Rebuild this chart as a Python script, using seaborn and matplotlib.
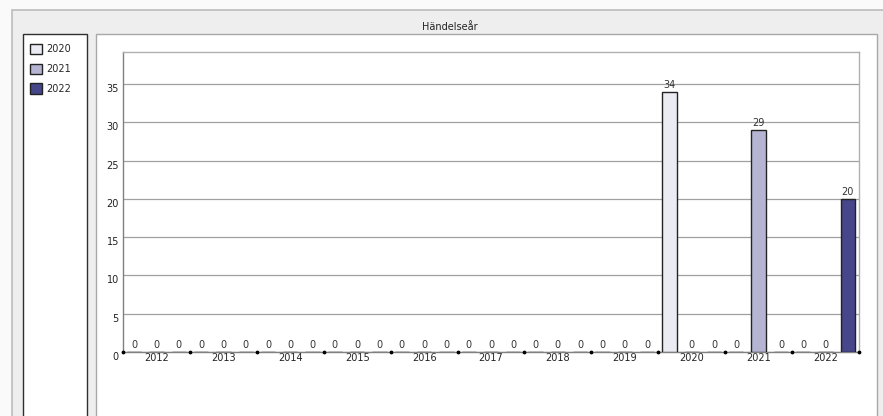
import numpy as np
import pandas as pd
import matplotlib
matplotlib.use('Agg')
import matplotlib.pyplot as plt
from matplotlib.patches import Rectangle
import seaborn as sns

# Datos
years = ['2012', '2013', '2014', '2015', '2016', '2017', '2018', '2019', '2020', '2021', '2022']
series = ['2020', '2021', '2022']
values_2020 = [0, 0, 0, 0, 0, 0, 0, 0, 34, 0, 0]
values_2021 = [0, 0, 0, 0, 0, 0, 0, 0, 0, 29, 0]
values_2022 = [0, 0, 0, 0, 0, 0, 0, 0, 0, 0, 20]
colors = ['#ebebf3', '#b5b5d3', '#46468a']

df = pd.DataFrame({
    'year': years * 3,
    'serie': [s for s in series for _ in years],
    'value': values_2020 + values_2021 + values_2022,
})

sns.set_style('white')
plt.rcParams['font.family'] = ['DejaVu Sans']

W, H = 883, 416
fig = plt.figure(figsize=(W / 100, H / 100), dpi=100)
fig.patch.set_facecolor('#fafafa')


def px_rect(x0, y0, x1, y1, **kw):
    # rectangulo en pixeles (origen arriba-izquierda)
    r = Rectangle((x0 / W, 1 - y1 / H), (x1 - x0) / W, (y1 - y0) / H,
                  transform=fig.transFigure, zorder=-5, **kw)
    fig.patches.append(r)


# Panel exterior con titulo
px_rect(12, 10, W + 5, H + 5, facecolor='#eeeeee', edgecolor='#bcbcbc', linewidth=1.2)
fig.text(450 / W, 1 - 27 / H, 'Händelseår', ha='center', va='center', fontsize=7, color='#222222')

# Paneles
px_rect(23, 34, 87, H + 5, facecolor='white', edgecolor='#303030', linewidth=1.0)
px_rect(96, 34, 877, H + 5, facecolor='white', edgecolor='#a8a8a8', linewidth=1.0)

ax = fig.add_axes([123 / W, 1 - 352 / H, (859 - 123) / W, (352 - 52) / H])
ax.set_zorder(5)
ax.set_facecolor('white')

sns.barplot(data=df, x='year', y='value', hue='serie', order=years, hue_order=series,
            palette=colors, saturation=1, width=1.0, gap=0.36, edgecolor='#222222',
            linewidth=1.0, legend=True, ax=ax, zorder=3)

for c in ax.containers:
    ax.bar_label(c, padding=1.5, fontsize=7, color='#333333')

ax.set_xlim(-0.5, len(years) - 0.5)
ax.set_ylim(0, 39.2)
ax.set_yticks([0, 5, 10, 15, 20, 25, 30, 35])
ax.set_yticklabels(['0', '5', '10', '15', '20', '25', '30', '35'], va='top', fontsize=7, color='#222222')
ax.tick_params(axis='y', length=0, pad=3)
ax.tick_params(axis='x', length=0, pad=1, labelsize=7, labelcolor='#222222')
ax.set_xlabel('')
ax.set_ylabel('')
ax.yaxis.grid(True, color='#a0a0a0', linewidth=0.9, zorder=0)
ax.set_axisbelow(True)

for s in ['top', 'right']:
    ax.spines[s].set_color('#b0b0b0')
ax.spines['left'].set_color('#808080')
ax.spines['bottom'].set_color('#808080')
for s in ax.spines.values():
    s.set_linewidth(1.0)

# marcas entre grupos
edges = np.arange(len(years) + 1) - 0.5
ax.scatter(edges, np.zeros(len(edges)), s=3, color='black', clip_on=False, zorder=6)

handles, labels = ax.get_legend_handles_labels()
ax.get_legend().remove()
fig.legend(handles, labels, loc='upper left', bbox_to_anchor=(30 / W, 1 - 44 / H),
           frameon=False, fontsize=7, handlelength=1.25, handleheight=1.25,
           handletextpad=0.4, labelspacing=0.95, borderaxespad=0, borderpad=0)

fig.savefig('out.png', dpi=100, facecolor=fig.get_facecolor())
